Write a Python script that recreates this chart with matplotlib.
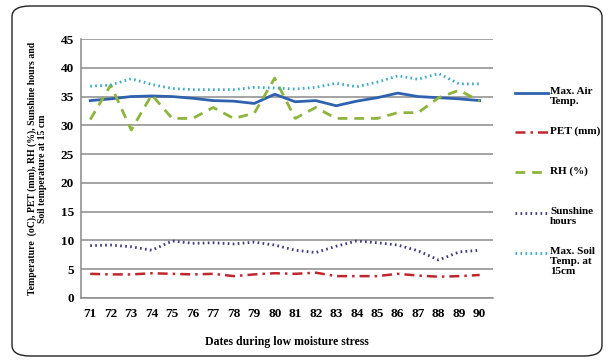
import matplotlib
matplotlib.use('Agg')
import matplotlib.pyplot as plt
from matplotlib.lines import Line2D
from matplotlib.patches import FancyBboxPatch

# days of the low moisture stress period
days = list(range(71, 91))

max_air_temp = [34.3, 34.6, 35.0, 35.1, 35.0, 34.7, 34.3, 34.2, 33.8, 35.4,
                34.1, 34.3, 33.4, 34.2, 34.8, 35.6, 35.0, 34.8, 34.6, 34.3]
pet_mm = [4.2, 4.1, 4.1, 4.3, 4.2, 4.1, 4.2, 3.8, 4.1, 4.3,
          4.2, 4.4, 3.8, 3.8, 3.8, 4.2, 3.9, 3.7, 3.8, 4.0]
rh_pct = [31.0, 37.0, 29.2, 35.3, 31.2, 31.2, 33.1, 31.2, 32.1, 38.2,
          31.2, 33.1, 31.2, 31.2, 31.2, 32.2, 32.2, 34.8, 36.1, 34.2]
sunshine_hours = [9.1, 9.2, 8.9, 8.3, 9.9, 9.5, 9.6, 9.4, 9.7, 9.2,
                  8.3, 7.9, 9.0, 9.9, 9.6, 9.2, 8.2, 6.6, 8.0, 8.3]
soil_temp_15cm = [36.8, 37.0, 38.1, 37.1, 36.4, 36.2, 36.2, 36.2, 36.6, 36.5,
                  36.3, 36.6, 37.3, 36.7, 37.5, 38.6, 38.0, 39.0, 37.2, 37.2]

y_ticks = list(range(0, 50, 5))

SERIF = ['Liberation Serif', 'DejaVu Serif']

series = [
    (max_air_temp, "Max. Air\nTemp.", dict(color='#2F62AE', lw=2.0, ls='-')),
    (pet_mm, "PET (mm)", dict(color='#C0262E', lw=1.8, ls=(0, (4, 2, 1, 2)))),
    (rh_pct, "RH (%)", dict(color='#8DB43C', lw=2.0, ls=(0, (3.5, 2.5)))),
    (sunshine_hours, "Sunshine\nhours", dict(color='#3C3A7C', lw=2.0, ls=(0, (0.6, 1.2)))),
    (soil_temp_15cm, "Max. Soil\nTemp. at\n15cm", dict(color='#3AAAC8', lw=2.0, ls=(0, (0.6, 1.2)))),
]

fig = plt.figure(figsize=(6.1, 3.6), dpi=100)
ax = fig.add_axes([81 / 610, 1 - 298 / 360, (493 - 81) / 610, (298 - 39) / 360])

for vals, label, style in series:
    ax.plot(days, vals, label=label, **style)

ax.set_xlim(70.55, 90.65)
ax.set_ylim(0, 45)
ax.set_xticks(days)
ax.set_yticks(y_ticks)
ax.yaxis.grid(True, color='#8a8a8a', lw=1.1)
ax.set_axisbelow(True)
for s in ['top', 'right']:
    ax.spines[s].set_visible(False)
ax.spines['left'].set_color('#8a8a8a')
ax.spines['bottom'].set_color('#8a8a8a')
ax.spines['left'].set_linewidth(1.1)
ax.spines['bottom'].set_linewidth(1.1)
ax.tick_params(axis='x', length=0, pad=7)
ax.tick_params(axis='y', length=0, pad=5)
for lab in ax.get_xticklabels() + ax.get_yticklabels():
    lab.set_family(SERIF)
    lab.set_fontweight('bold')
    lab.set_fontsize(9.5)

ax.set_xlabel("Dates during low moisture stress", family=SERIF,
              fontweight='bold', fontsize=8.5, labelpad=12)
ax.set_ylabel("Temperature  (oC), PET (mm), RH (%), Sunshine hours and\n"
              "Soil temperature at 15 cm", family=SERIF, fontweight='bold',
              fontsize=7, labelpad=10, linespacing=1.15)

# legend drawn at the right, sample aligned with first text line
leg_y = [93, 132, 172, 213, 253]
for (vals, label, style), yp in zip(series, leg_y):
    yf = 1 - yp / 360
    fig.add_artist(Line2D([515 / 610, 548 / 610], [yf, yf],
                          transform=fig.transFigure, **style))
    fig.text(550 / 610, yf + 6 / 360, label, family=SERIF, fontweight='bold',
             fontsize=8, va='top', ha='left', linespacing=1.15)

# rounded frame around the chart
fig.add_artist(FancyBboxPatch((12 / 610, 4 / 360), 590 / 610, 350 / 360,
                              boxstyle="round,pad=0,rounding_size=0.03",
                              transform=fig.transFigure, fill=False,
                              ec='#222222', lw=1.0))

fig.savefig("out.png", dpi=100)
plt.close(fig)
